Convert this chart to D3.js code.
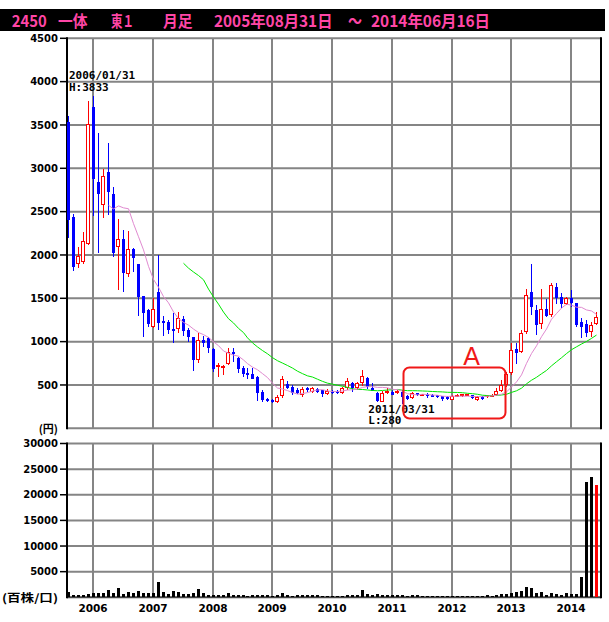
<!DOCTYPE html>
<html><head><meta charset="utf-8">
<script src="https://cdn.jsdelivr.net/npm/d3@7"></script>
<style>body{margin:0;background:#fff}</style>
</head><body><svg id="c" width="609" height="622"></svg>
<script>
// ---------------- DATA ----------------
const months = [
"2005/08","2005/09","2005/10","2005/11","2005/12",
"2006/01","2006/02","2006/03","2006/04","2006/05","2006/06","2006/07","2006/08","2006/09","2006/10","2006/11","2006/12",
"2007/01","2007/02","2007/03","2007/04","2007/05","2007/06","2007/07","2007/08","2007/09","2007/10","2007/11","2007/12",
"2008/01","2008/02","2008/03","2008/04","2008/05","2008/06","2008/07","2008/08","2008/09","2008/10","2008/11","2008/12",
"2009/01","2009/02","2009/03","2009/04","2009/05","2009/06","2009/07","2009/08","2009/09","2009/10","2009/11","2009/12",
"2010/01","2010/02","2010/03","2010/04","2010/05","2010/06","2010/07","2010/08","2010/09","2010/10","2010/11","2010/12",
"2011/01","2011/02","2011/03","2011/04","2011/05","2011/06","2011/07","2011/08","2011/09","2011/10","2011/11","2011/12",
"2012/01","2012/02","2012/03","2012/04","2012/05","2012/06","2012/07","2012/08","2012/09","2012/10","2012/11","2012/12",
"2013/01","2013/02","2013/03","2013/04","2013/05","2013/06","2013/07","2013/08","2013/09","2013/10","2013/11","2013/12",
"2014/01","2014/02","2014/03","2014/04","2014/05","2014/06"];

const openPrices = [
3538,2442,1892,1923,2123,3708,2846,2577,2962,2704,
2090,2185,1777,2068,1896,1527,1365,1166,1577,1242,
1231,1146,1143,1258,1135,1050,790,1019,1038,911,
705,712,742,885,815,692,635,630,596,423,
335,330,300,372,515,475,440,390,462,420,
450,440,396,435,425,404,460,525,463,525,
580,462,412,309,410,423,404,423,377,346,
404,385,400,390,385,367,365,330,370,375,
378,385,330,365,360,375,379,425,495,636,
920,886,1110,1577,1366,1204,1373,1308,1630,1519,
1431,1500,1442,1231,1204,1115,1204];

const highPrices = [
3604,2473,2096,2269,3780,3833,3412,2992,3296,2788,
2412,2290,2281,2075,1900,1527,1377,1500,2000,1296,
1250,1330,1346,1300,1154,1050,1096,1065,1058,923,
750,731,923,930,827,719,700,700,604,445,
346,340,390,600,550,500,462,473,475,481,
460,445,450,445,440,481,577,540,540,674,
590,520,415,435,462,440,445,440,390,415,
410,400,405,395,390,375,370,380,400,395,
395,390,370,370,385,395,463,559,650,990,
985,1135,1610,1900,1423,1604,1488,1681,1673,1560,
1520,1596,1450,1270,1250,1230,1346];

const lowPrices = [
2192,1819,1854,1896,2110,2455,2020,2431,2462,1981,
1596,1569,1742,1807,1300,1058,1173,1154,1135,1066,
1090,990,1100,1070,1000,665,758,942,865,645,
596,615,731,765,640,590,570,565,319,308,
300,290,296,346,450,386,392,358,420,410,
405,365,380,395,400,395,442,423,445,488,
450,430,308,300,395,380,395,280,330,340,
370,375,345,360,355,320,325,325,365,365,
370,340,320,330,345,365,370,420,480,615,
740,865,1090,1308,1078,1150,1280,1290,1430,1390,
1420,1400,1165,1038,1050,1058,1190];

const closePrices = [
2404,1865,1992,2162,3512,2880,2700,2912,2731,2027,
2181,1788,2068,1968,1519,1335,1200,1373,1212,1220,
1135,1127,1270,1127,1050,790,1020,988,931,680,
725,720,885,860,680,627,610,569,404,325,
310,298,362,572,465,410,405,450,437,462,
418,395,435,404,412,462,550,463,527,600,
478,435,319,410,425,385,435,365,340,404,
380,395,375,375,365,335,335,375,390,392,
392,350,365,345,380,390,425,500,630,905,
874,1097,1538,1404,1190,1373,1296,1648,1500,1435,
1500,1442,1192,1173,1104,1192,1288];

const volumes = [
980,457,457,457,650,850,850,850,1370,915,
1760,650,1045,780,1240,915,780,780,2940,1045,
650,1175,1045,650,650,780,1570,850,520,457,
457,457,850,520,520,457,330,520,520,520,
390,330,520,850,457,330,390,390,390,390,
390,330,330,330,330,330,457,457,457,1440,
650,457,650,457,457,390,390,457,330,457,
390,330,260,260,260,260,260,260,260,260,
260,260,260,260,457,330,520,650,650,915,
1110,1240,2025,1890,850,980,520,850,650,520,
780,650,650,3980,22400,23510,21880];

const priceTicks = [500,1000,1500,2000,2500,3000,3500,4000,4500];
const volumeTicks = [5000,10000,15000,20000,25000,30000];
const yearLabels = ["2006","2007","2008","2009","2010","2011","2012","2013","2014"];
const shortMA = 9, longMA = 24;
const titleTexts = ["2450","一体","東１","月足","2005年08月31日","～","2014年06月16日"];

// ---------------- LAYOUT ----------------
const plotL = 67, plotR = 601;
const pTop = 38.3, pBot = 428.3;
const vTop = 443.5, vBot = 597.3;

const svg = d3.select("#c");
const x = d3.scalePoint().domain(months).range([68.2, 596.1]);
const px = m => Math.round(x(m));          // pixel column
const y = d3.scaleLinear().domain([0, 4500]).range([pBot, pTop]);
const yv = d3.scaleLinear().domain([0, 30000]).range([vBot, vTop]);

const GRID = "#858585";
const numFont = "DejaVu Sans";

// title bar
svg.append("rect").attr("x",0).attr("y",9).attr("width",605).attr("height",22).attr("fill","#000");
const titlePos = [[11.7,35],[58,29.5],[111,23],[163,29.5],[214,118.5],[348,14],[371,119]];
titleTexts.forEach((t,i)=>{
  svg.append("text").attr("x",titlePos[i][0]).attr("y",27)
    .attr("textLength",titlePos[i][1]).attr("lengthAdjust","spacingAndGlyphs")
    .attr("font-family","'Noto Sans CJK JP'").attr("font-weight","bold")
    .attr("font-size",16).attr("fill","#ff46a6").text(t);
});

// ---------- grids ----------
const janMonths = months.filter(m => m.endsWith("/01"));
function grid(top, bot, yscale, ticks){
  const g = svg.append("g");
  g.selectAll("line.v").data(janMonths).enter().append("line")
    .attr("x1", m=>px(m)).attr("x2", m=>px(m)).attr("y1", top).attr("y2", bot)
    .attr("stroke", GRID).attr("stroke-width", 2);
  g.selectAll("line.h").data(ticks).enter().append("line")
    .attr("x1", plotL).attr("x2", plotR).attr("y1", d=>yscale(d)).attr("y2", d=>yscale(d))
    .attr("stroke", GRID).attr("stroke-width", 2);
  g.selectAll("line.t").data(ticks).enter().append("line")
    .attr("x1", 60).attr("x2", plotL).attr("y1", d=>yscale(d)).attr("y2", d=>yscale(d))
    .attr("stroke", "#000").attr("stroke-width", 1.5);
  g.selectAll("text").data(ticks).enter().append("text")
    .attr("x", 58).attr("y", d=>yscale(d)+3.6).attr("text-anchor","end")
    .attr("font-family", numFont).attr("font-weight","bold").attr("font-size",10)
    .attr("fill","#000").text(d=>d);
}
grid(pTop, pBot, y, priceTicks);
grid(vTop, vBot, yv, volumeTicks);
// bottom lines
svg.append("line").attr("x1",plotL).attr("x2",plotR).attr("y1",pBot).attr("y2",pBot).attr("stroke",GRID).attr("stroke-width",2);
svg.append("line").attr("x1",plotL).attr("x2",plotR).attr("y1",vBot).attr("y2",vBot).attr("stroke","#444").attr("stroke-width",2);
// left & right borders
[[pTop,pBot],[vTop,vBot]].forEach(([a,b])=>{
  svg.append("line").attr("x1",plotL).attr("x2",plotL).attr("y1",a-1).attr("y2",b+1).attr("stroke","#000").attr("stroke-width",2);
  svg.append("line").attr("x1",plotR).attr("x2",plotR).attr("y1",a-1).attr("y2",b+1).attr("stroke","#000").attr("stroke-width",2);
});

// axis unit labels
svg.append("text").attr("x",58).attr("y",pBot+4.5).attr("text-anchor","end")
  .attr("font-family","'Noto Sans CJK JP'").attr("font-weight","bold").attr("font-size",11).text("(円)");
svg.append("text").attr("x",2).attr("y",vBot+4.5).attr("textLength",56).attr("lengthAdjust","spacingAndGlyphs")
  .attr("font-family","'Noto Sans CJK JP'").attr("font-weight","bold").attr("font-size",11).text("(百株/口)");

// year labels
svg.selectAll("text.yr").data(janMonths).enter().append("text")
  .attr("x", m=>px(m)).attr("y", 612).attr("text-anchor","middle")
  .attr("font-family", numFont).attr("font-weight","bold").attr("font-size",10.5)
  .text((m,i)=>yearLabels[i]);

// ---------- candles ----------
const cg = svg.append("g").attr("shape-rendering","crispEdges");
months.forEach((m,i)=>{
  const o=openPrices[i], h=highPrices[i], l=lowPrices[i], c=closePrices[i];
  const n = px(m);
  const up = c > o;
  const col = up ? "#ff0000" : "#0000ff";
  cg.append("line").attr("x1",n+0.5).attr("x2",n+0.5)
    .attr("y1",Math.round(y(h))).attr("y2",Math.round(y(l))).attr("stroke",col).attr("stroke-width",1);
  const t = Math.round(y(Math.max(o,c))), b = Math.round(y(Math.min(o,c)));
  if (up) {
    cg.append("rect").attr("x",n-1.5).attr("y",t+0.5).attr("width",3).attr("height",Math.max(1,b-t-1))
      .attr("fill","#fff").attr("stroke",col).attr("stroke-width",1);
  } else {
    cg.append("rect").attr("x",n-1).attr("y",t).attr("width",3).attr("height",Math.max(2,b-t))
      .attr("fill",col);
  }
});

// ---------- moving averages ----------
function movingAvg(n){
  return closePrices.map((v,i)=> i < n-1 ? null : d3.mean(closePrices.slice(i-n+1,i+1)));
}
const line = d3.line().defined(d=>d.v!==null).x(d=>px(d.m)+0.5).y(d=>y(d.v));
const maS = movingAvg(shortMA).map((v,i)=>({m:months[i],v}));
const maL = movingAvg(longMA).map((v,i)=>({m:months[i],v}));
svg.append("path").datum(maL).attr("d",line).attr("fill","none").attr("stroke","#00e600").attr("stroke-width",1);
svg.append("path").datum(maS).attr("d",line).attr("fill","none").attr("stroke","#e08ad0").attr("stroke-width",1);

// ---------- volume ----------
svg.append("g").attr("shape-rendering","crispEdges").selectAll("rect").data(volumes).enter().append("rect")
  .attr("x",(d,i)=>px(months[i])-1).attr("width",3)
  .attr("y",d=>Math.round(yv(d))).attr("height",d=>Math.round(vBot)-Math.round(yv(d)))
  .attr("fill",(d,i)=> i===volumes.length-1 ? "#ff0000" : "#000");

// ---------- annotations ----------
const monoF = "DejaVu Sans Mono";
const hiIdx = d3.maxIndex(highPrices), loIdx = d3.minIndex(lowPrices);
function annot(xp, y1, lines){
  lines.forEach((t,k)=>svg.append("text").attr("x",xp).attr("y",y1+k*11.7)
    .attr("font-family",monoF).attr("font-weight","bold").attr("font-size",11).attr("fill","#000").text(t));
}
annot(69, 79, [months[hiIdx].replace("/", "/").concat("/31"), "H:" + highPrices[hiIdx]]);
annot(368.3, 412.5, [months[loIdx].concat("/31"), "L:" + lowPrices[loIdx]]);

// region box "A"
svg.append("rect").attr("x",403.5).attr("y",367.5).attr("width",102).attr("height",51).attr("rx",6)
  .attr("fill","none").attr("stroke","#f01818").attr("stroke-width",2);
svg.append("text").attr("x",471.5).attr("y",365).attr("text-anchor","middle")
  .attr("font-family","'Liberation Sans'").attr("font-size",25).attr("fill","#f01818").text("A");
</script></body></html>
